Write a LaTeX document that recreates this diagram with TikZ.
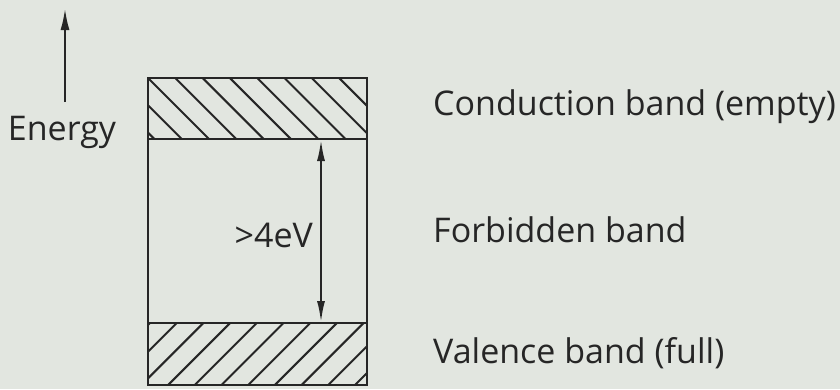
\documentclass[tikz,border=0pt]{standalone}
\usepackage{fontspec}
\setmainfont{Open Sans}
\usetikzlibrary{arrows.meta}
\definecolor{paper}{RGB}{226,230,224}
\definecolor{ink}{RGB}{38,38,38}
\tikzset{
	bandlabel/.style={anchor=base west,inner sep=0pt,font=\fontsize{34}{40}\selectfont,text=ink},
	inkline/.style={draw=ink,line width=2.4pt},
	hatchline/.style={draw=ink,line width=2pt},
}
\begin{document}
\begin{tikzpicture}[x=1pt,y=-1pt]
	\fill [paper] (0,0) rectangle (840,389);
	\useasboundingbox (0,0) rectangle (840,389);
	\begin{scope}
		\clip (148,78) rectangle (367,139);
		\foreach \i in {-3,...,8}{
			\draw [hatchline] (148+27.3*\i,78) -- ++(61,61);
		}
	\end{scope}
	\begin{scope}
		\clip (148,323) rectangle (367,385);
		\foreach \i in {0,...,11}{
			\draw [hatchline] (150+26.7*\i,323) -- ++(-62,62);
		}
	\end{scope}
	\draw [inkline] (148,78) rectangle (367,385) (148,139) -- (367,139) (148,323) -- (367,323);
	\coordinate (e0) at (65,102); \coordinate (e1) at (65,8);
	\coordinate (g0) at (321,139); \coordinate (g1) at (321,323);
	\draw [inkline,-{Latex[length=22pt,width=9pt]}] (e0) -- (e1);
	\draw [inkline,{Latex[length=22pt,width=8pt]}-{Latex[length=22pt,width=8pt]}] (g0) -- (g1);
	\node [bandlabel,anchor=base] at (62,140) (elabel) {Energy};
	\node [bandlabel,anchor=base east] at (313,247) (gaplabel) {>4eV};
	\node [bandlabel] at (433,115) (clabel) {Conduction band (empty)};
	\node [bandlabel] at (433,242) (flabel) {Forbidden band};
	\node [bandlabel] at (433,363) (vlabel) {Valence band (full)};
\end{tikzpicture}
\end{document}
